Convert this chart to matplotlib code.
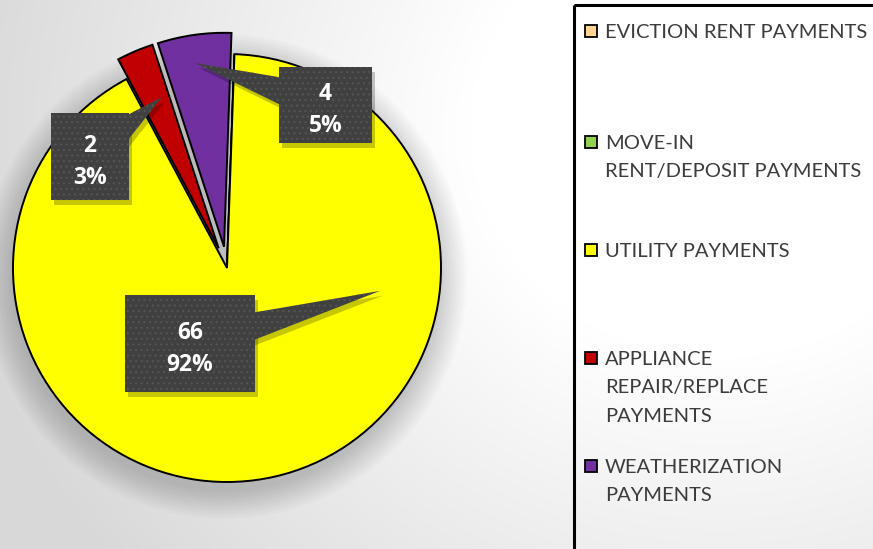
import numpy as np
import matplotlib.pyplot as plt
from matplotlib.patches import Rectangle, Polygon, Circle

categories = [
    "EVICTION RENT PAYMENTS",
    "MOVE-IN\nRENT/DEPOSIT PAYMENTS",
    "UTILITY PAYMENTS",
    "APPLIANCE\nREPAIR/REPLACE\nPAYMENTS",
    "WEATHERIZATION\nPAYMENTS",
]
values = [0, 0, 66, 2, 4]
pct_text = ["0%", "0%", "92%", "3%", "5%"]
colors = ["#FFD591", "#92D050", "#FFFF00", "#C00000", "#7030A0"]
explode = [0, 0, 0, 0.1, 0.1]

# callout boxes (data units, pie radius = 1): centre, size, pointer tip
box_center = {2: (-0.173, -0.353), 3: (-0.640, 0.521), 4: (0.460, 0.762)}
box_size = {2: (0.607, 0.453), 3: (0.364, 0.407), 4: (0.435, 0.355)}
box_tip = {2: (0.715, -0.107), 3: (-0.304, 0.799), 4: (-0.150, 0.958)}

# legend rows (pixel y of first line)
legend_y = [31, 142, 250, 358, 466]

W, H = 873, 549
fig = plt.figure(figsize=(W / 100, H / 100), dpi=100)

# background gradient
bg = fig.add_axes([0, 0, 1, 1])
yy, xx = np.mgrid[0:H, 0:W]
d = np.hypot(xx - 720, (yy - 130) * 1.1)
t = np.clip((d - 250) / 520, 0, 1)
g = 1 - 0.15 * t
bg.imshow(np.dstack([g, g, g]), extent=[0, W, H, 0], aspect="auto")
bg.set_xlim(0, W)
bg.set_ylim(H, 0)
bg.axis("off")

# pie axes, 1 unit = 214 px, centre at px (227, 268)
R = 214
cx, cy = 227, 268
ax = fig.add_axes([0, 0, 560 / W, 1])
ax.patch.set_alpha(0)

# soft shadow behind the pie
for i in range(12):
    ax.add_patch(Circle((-0.01, -0.04), 1 + 0.012 * i, color="black",
                        alpha=0.014, lw=0, zorder=0))

wedges, _ = ax.pie(
    values,
    colors=colors,
    explode=explode,
    startangle=88,
    counterclock=False,
    radius=1,
    wedgeprops=dict(edgecolor="black", linewidth=1.4),
)
for w in wedges:
    w.set_zorder(1)

plt.rcParams["hatch.linewidth"] = 0.8
for i, (v, p) in enumerate(zip(values, pct_text)):
    if v == 0:
        continue
    bx, by = box_center[i]
    bw, bh = box_size[i]
    tx, ty = box_tip[i]
    dx, dy = tx - bx, ty - by
    L = np.hypot(dx, dy)
    nx, ny = -dy / L * 0.093, dx / L * 0.093
    sx, sy = 0.014, -0.022
    # shadow
    ax.add_patch(Rectangle((bx - bw / 2 + sx, by - bh / 2 + sy), bw, bh,
                           fc="black", alpha=0.22, lw=0, zorder=3))
    ax.add_patch(Polygon([(bx + nx + sx, by + ny + sy), (tx + sx, ty + sy),
                          (bx - nx + sx, by - ny + sy)],
                         fc="black", alpha=0.22, lw=0, zorder=3))
    ax.add_patch(Polygon([(bx + nx, by + ny), (tx, ty), (bx - nx, by - ny)],
                         fc="#404040", ec="#555555", hatch="...", lw=0, zorder=4))
    ax.add_patch(Rectangle((bx - bw / 2, by - bh / 2), bw, bh,
                           fc="#404040", ec="#555555", hatch="...", lw=0, zorder=5))
    ax.text(bx, by - 0.024, f"{v}\n{p}", color="white", fontsize=16.5,
            fontweight="bold", family="Open Sans", ha="center", va="center",
            linespacing=1.45, zorder=6)

ax.set_aspect("auto")
ax.set_xlim((0 - cx) / R, (560 - cx) / R)
ax.set_ylim((cy - H) / R, cy / R)
ax.axis("off")

# legend drawn in pixel space
lg = fig.add_axes([0, 0, 1, 1])
lg.patch.set_alpha(0)
lg.set_xlim(0, W)
lg.set_ylim(H, 0)
lg.axis("off")
lg.add_patch(Rectangle((574, 5), 320, 560, fill=False, ec="black", lw=2.2))
for lab, col, y in zip(categories, colors, legend_y):
    lg.add_patch(Rectangle((585, y - 6), 12, 12, fc=col, ec="black", lw=1.3))
    lg.text(605, y - 7, lab, color="#3c3c3c", fontsize=14.5, family="Lato",
            ha="left", va="top", linespacing=1.82)

fig.savefig("out.png", dpi=100)
